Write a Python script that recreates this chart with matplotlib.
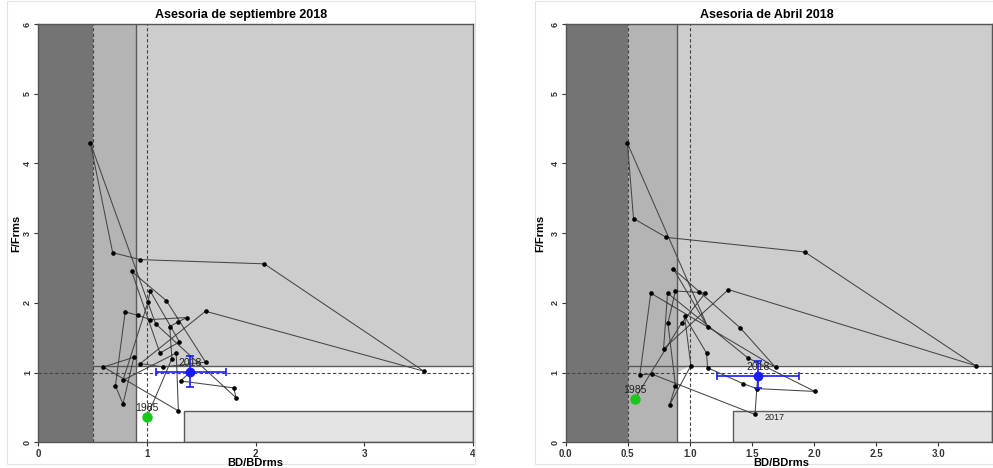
import matplotlib
matplotlib.use("Agg")
import matplotlib.pyplot as plt
from matplotlib.patches import Rectangle, Polygon

plt.rcParams['font.family'] = ['Liberation Sans', 'DejaVu Sans']

# ---------------- data ----------------
titles = ["Asesoria de septiembre 2018", "Asesoria de Abril 2018"]
x_label = "BD/BDrms"
y_label = "F/Frms"

# Left panel trajectory (first point = 1985, last = 2018)
left_bd = [1.00, 1.23, 1.21, 1.29, 1.37, 1.03, 0.92, 0.80, 0.71, 0.78, 0.88, 0.60,
           1.29, 1.27, 0.78, 1.01, 1.03, 1.30, 1.12, 0.86, 1.18, 1.54, 1.15, 0.94,
           1.54, 3.55, 2.08, 0.94, 0.685, 0.48, 1.08, 1.82, 1.80, 1.31, 1.40]
left_f = [0.36, 1.20, 1.66, 1.73, 1.79, 1.76, 1.82, 1.87, 0.81, 0.55, 1.22, 1.08,
          0.45, 1.28, 0.89, 2.01, 2.17, 1.44, 1.28, 2.45, 2.03, 1.15, 1.08, 1.13,
          1.88, 1.02, 2.56, 2.62, 2.72, 4.29, 1.70, 0.64, 0.78, 0.88, 1.01]
left_xerr = (1.08, 1.725)   # BD interval of last year
left_yerr = (0.80, 1.24)    # F interval of last year

# Right panel trajectory
right_bd = [0.556, 0.933, 1.124, 1.07, 0.884, 0.823, 0.884, 0.836, 1.008, 0.957, 1.134,
            1.142, 1.43, 1.54, 2.005, 1.468, 0.82, 0.788, 1.31, 3.30, 1.925, 0.809,
            0.546, 0.497, 1.145, 0.866, 1.406, 1.69, 0.685, 0.597, 0.691, 1.524, 1.546]
right_f = [0.62, 1.71, 2.14, 2.15, 2.17, 1.71, 0.81, 0.535, 1.10, 1.81, 1.28,
           1.07, 0.84, 0.77, 0.73, 1.21, 2.14, 1.34, 2.19, 1.10, 2.73, 2.94,
           3.21, 4.29, 1.65, 2.49, 1.64, 1.075, 2.14, 0.966, 0.98, 0.40, 0.956]
right_xerr = (1.218, 1.876)
right_yerr = (0.784, 1.17)

first_year = "1985"
last_year = "2018"
prev_year = "2017"

left_xticks = [0, 1, 2, 3, 4]
left_xticklabels = ["0", "1", "2", "3", "4"]
right_xticks = [0.0, 0.5, 1.0, 1.5, 2.0, 2.5, 3.0]
right_xticklabels = ["0.0", "0.5", "1.0", "1.5", "2.0", "2.5", "3.0"]
yticks = [0, 1, 2, 3, 4, 5, 6]

# reference-point zones
b_lim, b_pre, b_ref = 0.5, 0.9, 1.0
f_ref, f_over = 1.0, 1.1
box_b, box_f = 1.345, 0.454

W, H = 993, 468
fig = plt.figure(figsize=(W / 100, H / 100), dpi=100)

# faint frames around the two source images
for (x0, x1) in [(7, 475), (535, 999)]:
    fig.patches.append(Rectangle((x0 / W, 4 / H), (x1 - x0) / W, 463 / H,
                                 transform=fig.transFigure, fill=False,
                                 ec='#e4e4e4', lw=0.8))


def panel(ax, xmax, bd, f, xerr, yerr, xticks, xticklabels, notch, show_prev):
    ax.set_xlim(0, xmax)
    ax.set_ylim(0, 6)
    ax.add_patch(Rectangle((0, 0), b_lim, 6, fc='#747474', ec='none', zorder=0))
    ax.add_patch(Rectangle((b_lim, 0), b_pre - b_lim, 6, fc='#b4b4b4', ec='none', zorder=0))
    if notch:
        poly = [(b_pre, f_ref), (b_ref, f_over), (xmax, f_over), (xmax, 6), (b_pre, 6)]
    else:
        poly = [(b_pre, f_over), (xmax, f_over), (xmax, 6), (b_pre, 6)]
    ax.add_patch(Polygon(poly, closed=True, fc='#cdcdcd', ec='none', zorder=0))
    ax.add_patch(Rectangle((box_b, 0), xmax - box_b, box_f, fc='#e4e4e4',
                           ec='#5a5a5a', lw=1.0, zorder=1))
    ax.plot([b_lim, xmax], [f_over, f_over], color='#5a5a5a', lw=1.0, zorder=1)
    ax.plot([b_pre, b_pre], [0, 6], color='#5a5a5a', lw=1.0, zorder=1)
    dash = (0, (3, 2))
    ax.plot([b_lim, b_lim], [0, 6], color='#444444', lw=0.8, ls=dash, zorder=1)
    ax.plot([b_ref, b_ref], [0, 6], color='#444444', lw=0.8, ls=dash, zorder=1)
    ax.plot([0, xmax], [f_ref, f_ref], color='#444444', lw=0.8, ls=dash, zorder=1)

    ax.plot(bd, f, '-', color='#464646', lw=0.75, zorder=3)
    ax.plot(bd[1:-1], f[1:-1], 'o', color='black', ms=2.3, zorder=4)
    ax.plot(bd[0], f[0], 'o', color='#19c819', ms=6.5, zorder=5)
    ax.errorbar(bd[-1], f[-1],
                xerr=[[bd[-1] - xerr[0]], [xerr[1] - bd[-1]]],
                yerr=[[f[-1] - yerr[0]], [yerr[1] - f[-1]]],
                fmt='o', color='#1a1aff', ms=6, lw=1.2, capsize=3, capthick=1.2,
                zorder=6)
    ax.text(bd[0], f[0] + 0.06, first_year, ha='center', va='bottom',
            fontsize=7.5, color='#222222', zorder=7)
    ax.text(bd[-1], f[-1] + 0.05, last_year, ha='center', va='bottom',
            fontsize=7.5, color='#222222', zorder=7)
    if show_prev:
        ax.text(bd[-2] + 0.08, f[-2] - 0.04, prev_year, ha='left', va='center',
                fontsize=6.5, color='#222222', zorder=7)

    ax.set_xticks(xticks)
    ax.set_xticklabels(xticklabels, fontsize=7, fontweight='bold')
    ax.set_yticks(yticks)
    ax.set_yticklabels([str(v) for v in yticks], fontsize=6.5, fontweight='bold',
                       rotation=90, va='center')
    ax.tick_params(direction='out', length=3, width=0.8, pad=1.5, colors='#333333')
    for s in ax.spines.values():
        s.set_color('#555555')
        s.set_linewidth(1.0)


axL = fig.add_axes([38.3 / W, 25.7 / H, 434.4 / W, 418.3 / H])
panel(axL, 4.0, left_bd, left_f, left_xerr, left_yerr, left_xticks,
      left_xticklabels, False, False)

right_px = 992 - 565.7
axR = fig.add_axes([565.7 / W, 25.7 / H, right_px / W, 418.3 / H])
panel(axR, right_px / 124.2, right_bd, right_f, right_xerr, right_yerr,
      right_xticks, right_xticklabels, True, True)

# titles and axis labels placed in figure pixels
fig.text(241 / W, 1 - 15 / H, titles[0], ha='center', va='center',
         fontsize=9, fontweight='bold')
fig.text(767 / W, 1 - 15 / H, titles[1], ha='center', va='center',
         fontsize=9, fontweight='bold')
for cx in (255, 781):
    fig.text(cx / W, 1 - 462.5 / H, x_label, ha='center', va='center',
             fontsize=8, fontweight='bold')
for cx in (16, 540):
    fig.text(cx / W, 1 - 233 / H, y_label, ha='center', va='center',
             fontsize=8, fontweight='bold', rotation=90)

fig.savefig("out.png", dpi=100)
